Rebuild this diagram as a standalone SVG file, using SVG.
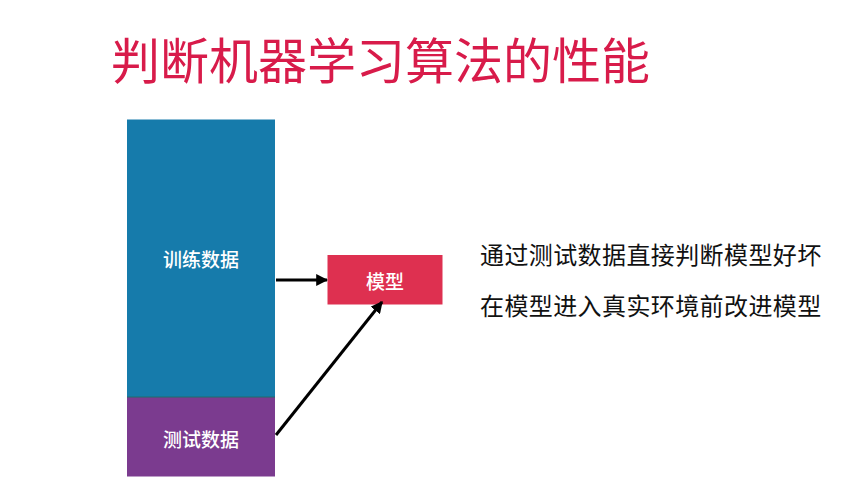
<svg xmlns="http://www.w3.org/2000/svg" width="843" height="491" viewBox="0 0 843 491">
<style>
.lbl{font-family:"Noto Sans CJK SC","Noto Sans",sans-serif;fill:#fff;font-weight:500;font-size:19px;text-anchor:middle;dominant-baseline:central}
.txt{font-family:"Noto Sans CJK SC","Noto Sans",sans-serif;fill:#111;font-size:24px;letter-spacing:0.4px}
.conn{stroke:#000;stroke-width:3;fill:none;marker-end:url(#ah)}
</style>
<defs>
<marker id="ah" viewBox="0 0 10 10" refX="9" refY="5" markerWidth="4" markerHeight="4" orient="auto" markerUnits="strokeWidth">
<path d="M0,0 L10,5 L0,10 z" fill="#000"/>
</marker>
</defs>
<rect width="843" height="491" fill="#fff"/>
<text x="111" y="79" font-family="'Noto Sans CJK SC','Noto Sans',sans-serif" font-size="49" fill="#d81b4a">判断机器学习算法的性能</text>
<g id="train">
<rect x="127" y="119.5" width="148" height="277.5" fill="#167bab"/>
<text class="lbl" x="201" y="258">训练数据</text>
</g>
<g id="test">
<rect x="127" y="397" width="148" height="79.5" fill="#7b3b8f"/>
<line x1="127" y1="397" x2="275" y2="397" stroke="#1f6f6a" stroke-width="1"/>
<text class="lbl" x="201" y="438">测试数据</text>
</g>
<g id="model">
<rect x="327.5" y="255" width="115" height="49.5" fill="#de3050"/>
<text class="lbl" x="385" y="280">模型</text>
</g>
<g id="connectors">
<line class="conn" x1="276" y1="280" x2="327" y2="280"/>
<line class="conn" x1="276" y1="435" x2="382" y2="302"/>
</g>
<g id="notes">
<text class="txt" x="480" y="264">通过测试数据直接判断模型好坏</text>
<text class="txt" x="480" y="315">在模型进入真实环境前改进模型</text>
</g>
</svg>
